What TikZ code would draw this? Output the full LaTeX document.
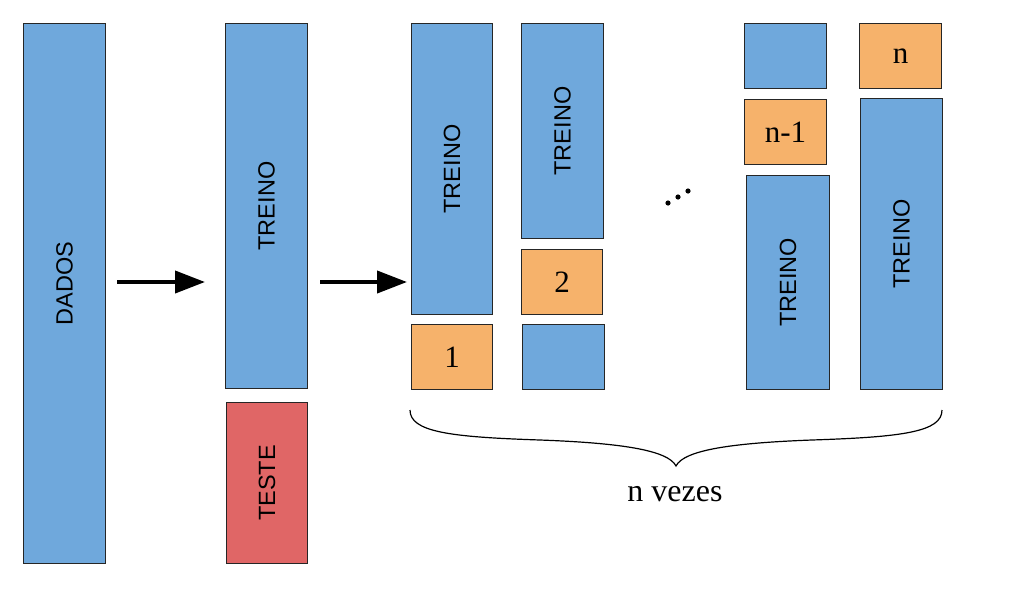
\documentclass[tikz,border=0pt]{standalone}
\usepackage{fontspec}
\usepackage{graphicx}
\setmainfont{Liberation Serif}
\setsansfont{Liberation Sans}
\usetikzlibrary{arrows.meta}

\definecolor{azul}{HTML}{6FA8DC}
\definecolor{laranja}{HTML}{F6B26B}
\definecolor{vermelho}{HTML}{E06666}

\tikzset{
  caixa/.style={draw=black!85, line width=1pt, inner sep=0pt, anchor=north west,
    font=\sffamily\fontsize{23.5}{28}\selectfont},
  bloco/.style 2 args={caixa, minimum width=#1, minimum height=#2},
  treino/.style={fill=azul},
  fold/.style={fill=laranja, font=\rmfamily\fontsize{31}{36}\selectfont},
  seta/.style={line width=4pt, -{Triangle[length=30pt,width=22pt]}}
}

\newcommand{\girado}[1]{\rotatebox{90}{#1}}

\begin{document}
\begin{tikzpicture}[x=1pt, y=-1pt]
    \useasboundingbox (0,0) rectangle (1013,606);

    \node[bloco={82pt}{540pt}, treino] (dados)  at (23,23)  {};
    \node[caixa, draw=none, anchor=center] at ([yshift=10pt]dados.center) {\girado{DADOS}};

    \node[bloco={82pt}{365pt}, treino] (treino) at (225,23)  {\girado{TREINO}};
    \node[bloco={81pt}{161pt}, fill=vermelho] (teste) at (226,402) {\girado{TESTE}};

    % fold 1
    \node[bloco={81pt}{291pt}, treino] (treinoA) at (411,23)  {\girado{TREINO}};
    \node[bloco={81pt}{65pt}, fold]    (foldA)   at (411,324) {1};
    % fold 2
    \node[bloco={82pt}{215pt}, treino] (treinoB) at (521,23)  {\girado{TREINO}};
    \node[bloco={81pt}{65pt}, fold]    (foldB)   at (521,249) {2};
    \node[bloco={82pt}{65pt}, treino]  (restoB)  at (522,324) {};
    % fold n-1
    \node[bloco={82pt}{65pt}, treino]  (restoC)  at (744,23)  {};
    \node[bloco={82pt}{65pt}, fold]    (foldC)   at (744,99)  {n-1};
    \node[bloco={83pt}{214pt}, treino] (treinoC) at (746,175) {\girado{TREINO}};
    % fold n
    \node[bloco={82pt}{65pt}, fold]    (foldD)   at (859,23)  {n};
    \node[bloco={82pt}{291pt}, treino] (treinoD) at (860,98)  {\girado{TREINO}};

    \coordinate (alturaSeta) at (0,282);
    \draw[seta] ([xshift=11pt]dados.east |- alturaSeta) -- ([xshift=-20pt]treino.west |- alturaSeta);
    \draw[seta] ([xshift=12pt]treino.east |- alturaSeta) -- ([xshift=-4pt]treinoA.west |- alturaSeta);

    % reticencias
    \foreach \x/\y in {668/203, 678/197, 688/191}
        \fill (\x,\y) circle (2.6pt);

    % chave
    \coordinate (chaveE) at (410,410);
    \coordinate (chaveD) at (942,410);
    \coordinate (ponta)  at (676,466);
    \draw[line width=1.2pt] (chaveE) .. controls (410,432) and (450,437) .. (540,440)
        .. controls (620,443) and (668,450) .. (ponta)
        .. controls (684,450) and (732,443) .. (812,440)
        .. controls (902,437) and (942,432) .. (chaveD);
    \node[font=\rmfamily\fontsize{32}{36}\selectfont] (vezes) at (675,494) {n vezes};
\end{tikzpicture}
\end{document}
